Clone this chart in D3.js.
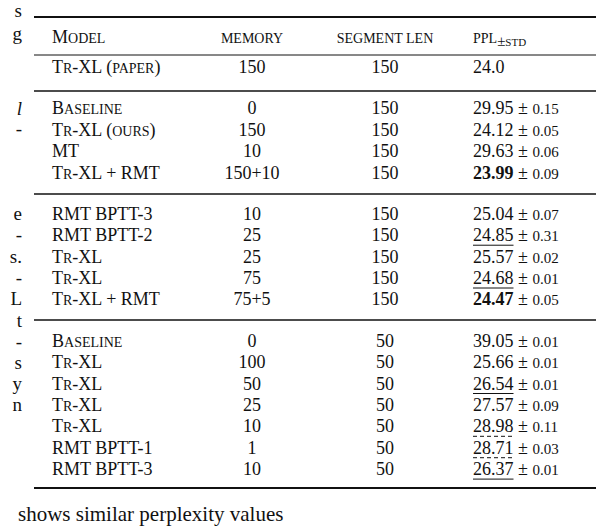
<!DOCTYPE html>
<html><head><meta charset="utf-8">
<script src="https://cdn.jsdelivr.net/npm/d3@7"></script>
<style>body{margin:0;background:#fff}svg{display:block}text{font-family:"Liberation Serif","DejaVu Serif",serif}</style>
</head><body>
<svg id="t" width="596" height="526"></svg>
<script>
// {..} marks small caps
const headers = ["M{odel}", "{memory}", "{segment len}", "{ppl}"];
const groupSizes = [1, 4, 5, 7];
const models = ["T{r}-XL ({paper})",
  "B{aseline}", "T{r}-XL ({ours})", "MT", "T{r}-XL + RMT",
  "RMT BPTT-3", "RMT BPTT-2", "T{r}-XL", "T{r}-XL", "T{r}-XL + RMT",
  "B{aseline}", "T{r}-XL", "T{r}-XL", "T{r}-XL", "T{r}-XL", "RMT BPTT-1", "RMT BPTT-3"];
const memory = ["150", "0", "150", "10", "150+10", "10", "25", "25", "75", "75+5",
  "0", "100", "50", "25", "10", "1", "10"];
const segLen = ["150", "150", "150", "150", "150", "150", "150", "150", "150", "150",
  "50", "50", "50", "50", "50", "50", "50"];
const ppl = ["24.0", "29.95", "24.12", "29.63", "23.99", "25.04", "24.85", "25.57", "24.68", "24.47",
  "39.05", "25.66", "26.54", "27.57", "28.98", "28.71", "26.37"];
const pplStd = [null, "0.15", "0.05", "0.06", "0.09", "0.07", "0.31", "0.02", "0.01", "0.05",
  "0.01", "0.01", "0.01", "0.09", "0.11", "0.03", "0.01"];
// b = bold, u = underline, d = dashed underline
const pplMark = ["", "", "", "", "b", "", "u", "", "u", "b", "", "", "u", "", "d", "d", "u"];
const marginText = [["s", 12], ["g", 35], ["l", 110, true], ["-", 130], ["e", 215], ["-", 236], ["s.", 258],
  ["-", 279], ["L", 300], ["t", 322], ["-", 343], ["s", 364], ["y", 385], ["n", 406]];
const footText = "shows similar perplexity values";

const svg = d3.select("#t");
const fs = 18, sc = 14;

// slot index -> y (each group adds a gap slot)
const slotY = d3.scaleLinear().domain([0, 1]).range([73, 94.4]);
let rowSlot = [], s = 0;
groupSizes.forEach((n, g) => { if (g) s += 0.93; for (let i = 0; i < n; i++) rowSlot.push(s++); });

const x = d3.scaleOrdinal().domain(["model", "memory", "seg", "ppl"]).range([52, 252, 385, 473]);

function addSC(sel, str, size, small) {
  str.split(/(\{[^}]*\})/).filter(p => p).forEach(p => {
    const isSc = p[0] === "{";
    sel.append("tspan").attr("font-size", isSc ? small : size)
      .text(isSc ? p.slice(1, -1).toUpperCase() : p);
  });
}

const g = svg.append("g").attr("fill", "#111");

// rules
const rules = [[17, 1.8], [55, 1], [91, 1.6], [194, 1.6], [320, 1.6], [488, 2.2]];
g.selectAll("line.rule").data(rules).join("line").attr("class", "rule")
  .attr("x1", 34).attr("x2", 596).attr("y1", d => d[0]).attr("y2", d => d[0])
  .attr("stroke", "#111").attr("stroke-width", d => d[1]);

// header
const hx = [x("model"), x("memory"), x("seg"), x("ppl")];
headers.forEach((h, i) => {
  const t = g.append("text").attr("x", hx[i]).attr("y", 43)
    .attr("text-anchor", i === 1 || i === 2 ? "middle" : "start");
  addSC(t, h, fs, sc);
  if (i === 3) { t.append("tspan").attr("dy", 3).attr("font-size", 15).text("±");
    t.append("tspan").attr("font-size", 11).text("STD"); }
});

// rows
models.forEach((m, i) => {
  const y = slotY(rowSlot[i]);
  addSC(g.append("text").attr("x", x("model")).attr("y", y), m, fs, sc);
  g.append("text").attr("x", x("memory")).attr("y", y).attr("text-anchor", "middle").attr("font-size", fs).text(memory[i]);
  g.append("text").attr("x", x("seg")).attr("y", y).attr("text-anchor", "middle").attr("font-size", fs).text(segLen[i]);
  const t = g.append("text").attr("x", x("ppl")).attr("y", y).attr("font-size", fs);
  const v = t.append("tspan").attr("font-weight", pplMark[i] === "b" ? "bold" : null).text(ppl[i]);
  if (pplStd[i]) { t.append("tspan").text(" ± "); t.append("tspan").attr("font-size", 15).text(pplStd[i]); }
  if (pplMark[i] === "u" || pplMark[i] === "d") {
    const w = v.node().getComputedTextLength();
    g.append("line").attr("x1", x("ppl")).attr("x2", x("ppl") + w).attr("y1", y + 4).attr("y2", y + 4)
      .attr("stroke", "#111").attr("stroke-width", 1)
      .attr("stroke-dasharray", pplMark[i] === "d" ? "4,3" : null);
  }
});

// cut-off body text around the table
g.selectAll("text.margin").data(marginText).join("text").attr("class", "margin")
  .attr("x", 22).attr("y", d => d[1] + 5).attr("text-anchor", "end").attr("font-size", 19)
  .attr("font-style", d => d[2] ? "italic" : null).text(d => d[0]);
g.append("text").attr("x", 18).attr("y", 521).attr("font-size", 21).text(footText);
</script>
</body></html>
